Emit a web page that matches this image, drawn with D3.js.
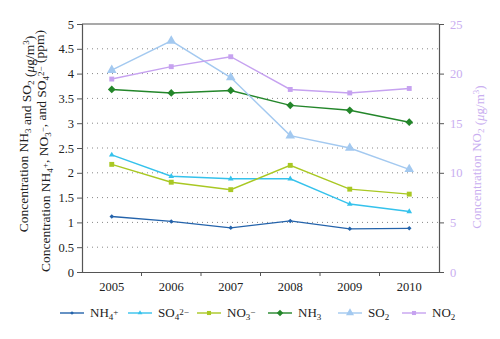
<!DOCTYPE html>
<html>
<head>
<meta charset="utf-8">
<script src="https://cdn.jsdelivr.net/npm/d3@7"></script>
<style>
  body { margin: 0; background: #fff; }
  svg, svg text { font-family: "Liberation Serif", "DejaVu Serif", serif; }
  .tick text { font-size: 12.5px; }
</style>
</head>
<body>
<div id="chart"></div>
<script>
var years = ["2005", "2006", "2007", "2008", "2009", "2010"];
var nh4 = [1.12, 1.02, 0.89, 1.03, 0.87, 0.88];
var so4 = [2.36, 1.93, 1.88, 1.88, 1.37, 1.22];
var no3 = [2.17, 1.81, 1.66, 2.15, 1.67, 1.57];
var nh3 = [3.68, 3.61, 3.66, 3.36, 3.26, 3.02];
var so2 = [4.07, 4.66, 3.92, 2.75, 2.50, 2.07];
var no2 = [19.45, 20.7, 21.7, 18.4, 18.05, 18.5];   // right axis
var leftTicks = [0, 0.5, 1, 1.5, 2, 2.5, 3, 3.5, 4, 4.5, 5];
var rightTicks = [0, 5, 10, 15, 20, 25];

var svgWidth = 500, svgHeight = 339;
var margin = { top: 24, right: 61, bottom: 67, left: 82 };
var width = svgWidth - margin.left - margin.right;
var height = svgHeight - margin.top - margin.bottom;

var svg = d3.select("#chart").append("svg")
    .attr("width", svgWidth)
    .attr("height", svgHeight);

var g = svg.append("g")
    .attr("transform", `translate(${margin.left}, ${margin.top})`);

var x = d3.scaleBand().domain(years).range([0, width]);
var yL = d3.scaleLinear().domain([0, 5]).range([height, 0]);
var yR = d3.scaleLinear().domain([0, 25]).range([height, 0]);
var cx = d => x(d) + x.bandwidth() / 2;

// dotted grid
g.selectAll("line.grid")
    .data(leftTicks.filter(t => t > 0 && t < 5))
    .enter().append("line")
    .attr("x1", 0).attr("x2", width)
    .attr("y1", d => yL(d)).attr("y2", d => yL(d))
    .attr("stroke", "#888")
    .attr("stroke-width", 1)
    .attr("stroke-dasharray", "1,4");

// top frame line
g.append("line")
    .attr("x1", 0).attr("x2", width).attr("y1", 0).attr("y2", 0)
    .attr("stroke", "#555").attr("stroke-width", 1.2);

// axes
var xAxis = g.append("g")
    .attr("transform", `translate(0, ${height})`)
    .call(d3.axisBottom(x).tickSize(0).tickPadding(10));
xAxis.attr("font-family", null);
xAxis.select(".domain").attr("stroke", "#555").attr("stroke-width", 1.2);
xAxis.selectAll(".tick text").attr("fill", "#222");
// x ticks between years
xAxis.selectAll("line.sep")
    .data(years.slice(1))
    .enter().append("line")
    .attr("x1", d => x(d)).attr("x2", d => x(d))
    .attr("y1", 0).attr("y2", 4)
    .attr("stroke", "#555");

var yAxisL = g.append("g")
    .call(d3.axisLeft(yL).tickValues(leftTicks).tickSize(5).tickPadding(3).tickFormat(d3.format("")));
yAxisL.attr("font-family", null);
yAxisL.select(".domain").attr("stroke", "#555").attr("stroke-width", 1.2);
yAxisL.selectAll(".tick line").attr("stroke", "#555");
yAxisL.selectAll(".tick text").attr("fill", "#222");

var yAxisR = g.append("g")
    .attr("transform", `translate(${width}, 0)`)
    .call(d3.axisRight(yR).tickValues(rightTicks).tickSize(5).tickPadding(6));
yAxisR.attr("font-family", null);
yAxisR.select(".domain").attr("stroke", "#555").attr("stroke-width", 1.2);
yAxisR.selectAll(".tick line").attr("stroke", "#555");
yAxisR.selectAll(".tick text").attr("fill", "#c9aef0");

// series
var series = [
    { name: "NH4", vals: nh4, scale: yL, color: "#2463ab", shape: d3.symbolSquare, size: 10, rot: 45 },
    { name: "SO4", vals: so4, scale: yL, color: "#35c2ec", shape: d3.symbolTriangle, size: 14, rot: 0 },
    { name: "NO3", vals: no3, scale: yL, color: "#a9c823", shape: d3.symbolSquare, size: 24, rot: 0 },
    { name: "NH3", vals: nh3, scale: yL, color: "#23862a", shape: d3.symbolSquare, size: 30, rot: 45 },
    { name: "SO2", vals: so2, scale: yL, color: "#a3c9f0", shape: d3.symbolTriangle, size: 40, rot: 0 },
    { name: "NO2", vals: no2, scale: yR, color: "#c6a2f0", shape: d3.symbolSquare, size: 24, rot: 0 }
];

series.forEach(function (s) {
    var pts = years.map((yr, i) => [cx(yr), s.scale(s.vals[i])]);
    g.append("path")
        .attr("d", d3.line()(pts))
        .attr("fill", "none")
        .attr("stroke", s.color)
        .attr("stroke-width", 1.4);
    g.selectAll(null)
        .data(pts)
        .enter().append("path")
        .attr("transform", d => `translate(${d[0]}, ${d[1]}) rotate(${s.rot})`)
        .attr("d", d3.symbol().type(s.shape).size(s.size))
        .attr("fill", s.color);
});

// axis titles
function addSub(t, base, sub, sup) {
    t.append("tspan").text(base);
    if (sub) t.append("tspan").attr("dy", 3).attr("font-size", "9px").text(sub);
    if (sub) t.append("tspan").attr("dy", -3).text("");
    if (sup) t.append("tspan").attr("dy", -5).attr("font-size", "9px").text(sup);
    if (sup) t.append("tspan").attr("dy", 5).text("");
}

function unit(t) {
    t.append("tspan").text(" (");
    t.append("tspan").attr("font-style", "italic").text("μ");
    t.append("tspan").text("g/m");
    t.append("tspan").attr("dy", -5).attr("font-size", "9px").text("3");
    t.append("tspan").attr("dy", 5).text(")");
}

var t1 = svg.append("text")
    .attr("transform", "translate(28, 134) rotate(-90)")
    .attr("text-anchor", "middle")
    .attr("font-size", "13.5px")
    .attr("fill", "#222");
addSub(t1, "Concentration NH", "3");
addSub(t1, " and SO", "2");
unit(t1);

var t2 = svg.append("text")
    .attr("transform", "translate(50, 151) rotate(-90)")
    .attr("text-anchor", "middle")
    .attr("font-size", "13.5px")
    .attr("fill", "#222");
addSub(t2, "Concentration NH", "4", "+");
addSub(t2, ", NO", "3", "−");
addSub(t2, ", and SO", "4", "2−");
t2.append("tspan").text("  (ppm)");

var t3 = svg.append("text")
    .attr("transform", "translate(481, 157) rotate(-90)")
    .attr("text-anchor", "middle")
    .attr("font-size", "13px")
    .attr("fill", "#c9aef0");
addSub(t3, "Concentration NO", "2");
unit(t3);

// legend
var legendX = [60, 128, 197, 268, 338, 402];
var legendLabels = [
    ["NH", "4", "+"], ["SO", "4", "2−"], ["NO", "3", "−"],
    ["NH", "3", ""], ["SO", "2", ""], ["NO", "2", ""]
];
var legend = svg.append("g").attr("transform", "translate(0, 313)");
series.forEach(function (s, i) {
    var lx = legendX[i];
    legend.append("line")
        .attr("x1", lx).attr("x2", lx + 24)
        .attr("y1", 0).attr("y2", 0)
        .attr("stroke", s.color).attr("stroke-width", 1.4);
    legend.append("path")
        .attr("transform", `translate(${lx + 12}, 0) rotate(${s.rot})`)
        .attr("d", d3.symbol().type(s.shape).size(s.size * 0.7))
        .attr("fill", s.color);
    var lt = legend.append("text")
        .attr("x", lx + 30).attr("y", 4)
        .attr("font-size", "13px")
        .attr("fill", "#222");
    var lab = legendLabels[i];
    addSub(lt, lab[0], lab[1], lab[2]);
});
</script>
</body>
</html>
